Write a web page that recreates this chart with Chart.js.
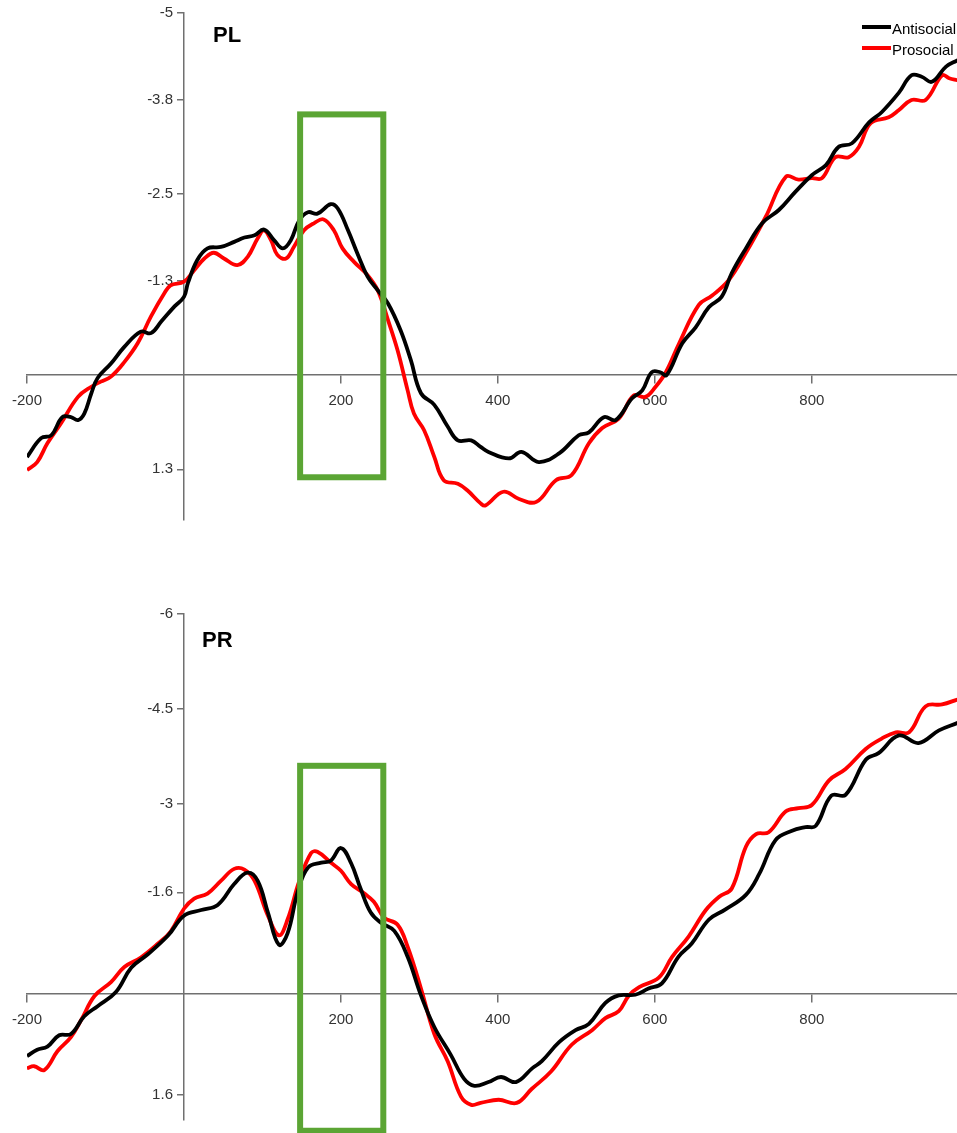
<!DOCTYPE html>
<html>
<head>
<meta charset="utf-8">
<script src="https://cdn.jsdelivr.net/npm/chart.js@4"></script>
<style>
	html, body { margin: 0; padding: 0; background: #fff; overflow: hidden; }
	body { width: 957px; height: 1133px; position: relative; }
	canvas { position: absolute; left: 0; }
	#pl { top: 0; }
	#pr { top: 560px; }
</style>
</head>
<body>
<canvas id="pl" width="957" height="560"></canvas>
<canvas id="pr" width="957" height="573"></canvas>
<script>
// ERP waveforms, time in ms, amplitude in microvolt (negative up)
const plAntiT = [-200,-182,-169,-155,-144,-135,-127,-118,-110,-93,-76,-55,-42,-29,-12,0,5,17,30,47,64,77,90,102,115,126,136,147,158,170,187,196,209,221,234,247,260,276,289,302,319,336,349,366,378,388,414,430,452,478,503,516,535,550,571,584,596,607,615,635,652,669,685,698,716,737,758,779,800,818,834,851,873,889,911,927,940,953,971,986];
const plAntiV = [1.13,0.87,0.83,0.58,0.58,0.62,0.53,0.25,0.04,-0.16,-0.39,-0.6,-0.58,-0.74,-0.95,-1.08,-1.27,-1.59,-1.75,-1.77,-1.84,-1.9,-1.93,-2.01,-1.86,-1.75,-1.86,-2.14,-2.25,-2.23,-2.36,-2.3,-2.0,-1.68,-1.36,-1.17,-0.99,-0.62,-0.21,0.25,0.41,0.71,0.9,0.9,0.99,1.06,1.15,1.06,1.2,1.08,0.83,0.79,0.58,0.62,0.32,0.21,-0.04,-0.04,0,-0.44,-0.66,-0.94,-1.08,-1.41,-1.75,-2.1,-2.28,-2.53,-2.76,-2.9,-3.15,-3.2,-3.49,-3.63,-3.9,-4.14,-4.12,-4.05,-4.26,-4.35];

const plProT = [-200,-187,-174,-157,-135,-118,-106,-93,-76,-59,-42,-25,-17,0,13,26,38,51,68,81,94,102,111,119,130,140,153,166,178,191,202,217,234,247,260,272,285,293,306,319,331,349,361,378,384,407,427,449,474,494,516,533,554,573,588,601,614,631,656,673,694,716,741,767,783,800,813,830,847,860,875,898,911,927,945,966,975,986];
const plProV = [1.31,1.2,0.94,0.67,0.3,0.16,0.09,0.02,-0.18,-0.44,-0.81,-1.13,-1.24,-1.29,-1.45,-1.61,-1.69,-1.61,-1.52,-1.63,-1.89,-2.0,-1.86,-1.66,-1.61,-1.77,-2.0,-2.1,-2.15,-2.0,-1.75,-1.56,-1.38,-1.17,-0.76,-0.35,0.21,0.53,0.76,1.13,1.45,1.5,1.59,1.77,1.8,1.61,1.71,1.75,1.45,1.38,0.94,0.73,0.6,0.28,0.3,0.16,-0.04,-0.44,-0.97,-1.1,-1.31,-1.69,-2.18,-2.74,-2.7,-2.72,-2.72,-3.01,-3.01,-3.15,-3.48,-3.56,-3.66,-3.8,-3.8,-4.14,-4.1,-4.07];

const prAntiT = [-200,-187,-174,-159,-144,-127,-110,-87,-67,-46,-20,0,22,43,64,81,94,107,121,132,145,158,175,187,200,213,225,238,251,268,285,302,319,340,357,370,388,404,423,444,456,478,499,516,537,554,575,592,609,630,647,669,690,716,733,754,774,792,805,825,843,869,885,911,936,962,986];
const prAntiV = [0.99,0.89,0.84,0.66,0.64,0.36,0.2,-0.02,-0.41,-0.62,-0.92,-1.23,-1.32,-1.4,-1.73,-1.91,-1.78,-1.28,-0.77,-0.95,-1.61,-1.99,-2.07,-2.1,-2.3,-2.06,-1.66,-1.28,-1.12,-0.99,-0.58,0.03,0.53,0.97,1.35,1.46,1.4,1.32,1.4,1.18,1.07,0.77,0.58,0.48,0.15,0.03,0.02,-0.08,-0.16,-0.58,-0.79,-1.17,-1.33,-1.56,-1.89,-2.43,-2.57,-2.63,-2.65,-3.13,-3.14,-3.7,-3.8,-4.08,-3.96,-4.16,-4.28];

const prProT = [-200,-191,-178,-161,-144,-131,-114,-93,-76,-55,-33,-17,0,13,30,47,64,77,90,107,121,132,147,162,170,187,200,213,230,242,255,272,285,302,319,336,353,366,378,401,424,443,468,494,520,537,554,567,580,605,622,643,665,682,698,716,729,745,767,783,800,822,843,869,889,907,924,945,966,986];
const prProV = [1.18,1.15,1.21,0.91,0.69,0.42,0.04,-0.18,-0.42,-0.57,-0.79,-0.98,-1.34,-1.5,-1.58,-1.78,-1.97,-1.96,-1.78,-1.23,-0.92,-1.17,-1.78,-2.22,-2.24,-2.07,-1.94,-1.73,-1.58,-1.45,-1.2,-1.09,-0.74,-0.08,0.64,1.07,1.63,1.76,1.73,1.68,1.73,1.51,1.23,0.81,0.58,0.39,0.28,0.03,-0.1,-0.25,-0.58,-0.9,-1.32,-1.53,-1.66,-2.32,-2.52,-2.55,-2.88,-2.93,-2.98,-3.37,-3.55,-3.87,-4.03,-4.13,-4.13,-4.54,-4.57,-4.65];

const seriesNames = ['Antisocial', 'Prosocial'];
const seriesColors = ['#000000', '#ff0000'];

const xTicks = [-200, 200, 400, 600, 800];
const plYTicks = [-5, -3.8, -2.5, -1.3, 1.3];
const prYTicks = [-6, -4.5, -3, -1.6, 1.6];

// highlighted window (ms) and its vertical extent per panel
const boxT = [148, 254];
const plBoxV = [-3.6, 1.41];
const prBoxV = [-3.6, 2.17];

const toPoints = function (ts, vs) {
	return ts.map((t, i) => ({ x: t, y: vs[i] }));
};

const overlay = {
	id: 'overlay',
	afterDraw(chart, args, opts) {
		const ctx = chart.ctx;
		const xs = chart.scales.x;
		const ys = chart.scales.y;
		ctx.save();
		// green box
		const x1 = xs.getPixelForValue(opts.boxT[0]);
		const x2 = xs.getPixelForValue(opts.boxT[1]);
		const y1 = ys.getPixelForValue(opts.boxV[0]);
		const y2 = ys.getPixelForValue(opts.boxV[1]);
		ctx.strokeStyle = '#5ba534';
		ctx.lineWidth = 6;
		ctx.strokeRect(x1, y1, x2 - x1, y2 - y1);
		// panel title
		ctx.fillStyle = '#000';
		ctx.font = 'bold 22px "Liberation Sans", Arial, sans-serif';
		ctx.textBaseline = 'alphabetic';
		ctx.textAlign = 'left';
		ctx.fillText(opts.title, opts.titleX, opts.titleY);
		// legend
		if (opts.legend) {
			ctx.font = '15px "Liberation Sans", Arial, sans-serif';
			ctx.textBaseline = 'middle';
			chart.data.datasets.forEach((ds, i) => {
				const ly = 27 + i * 21;
				ctx.strokeStyle = ds.borderColor;
				ctx.lineWidth = 4;
				ctx.beginPath();
				ctx.moveTo(862, ly);
				ctx.lineTo(891, ly);
				ctx.stroke();
				ctx.fillStyle = '#000';
				ctx.fillText(ds.label, 892, ly + 3);
			});
		}
		ctx.restore();
	},
};

const makeChart = function (id, anti, pro, yMin, yTicks, padTop, padBottom, ov) {
	const ctx = document.querySelector(id);
	const data = {
		datasets: [
			{ label: seriesNames[0], data: anti, borderColor: seriesColors[0], backgroundColor: seriesColors[0] },
			{ label: seriesNames[1], data: pro, borderColor: seriesColors[1], backgroundColor: seriesColors[1] },
		],
	};
	const font = { family: '"Liberation Sans", Arial, sans-serif', size: 15 };
	const axisGrey = '#707070';
	const setYTicks = (s) => { s.ticks = yTicks.map((v) => ({ value: v })); };
	const config = {
		type: 'line',
		data: data,
		options: {
			responsive: false,
			animation: false,
			events: [],
			layout: { padding: { left: 27, right: 0, top: padTop, bottom: padBottom } },
			elements: {
				line: { borderWidth: 3.8, tension: 0.4 },
				point: { radius: 0 },
			},
			scales: {
				x: {
					type: 'linear',
					min: -200,
					max: 985,
					position: { y: 0 },
					afterFit: (s) => { s.height = 0; },
					afterBuildTicks: (s) => { s.ticks = xTicks.map((v) => ({ value: v })); },
					grid: { drawOnChartArea: false, drawTicks: true, tickLength: 8, color: axisGrey, lineWidth: 1.5 },
					border: { color: axisGrey, width: 1.5 },
					ticks: { color: '#333', font: font, padding: 9, maxRotation: 0, autoSkip: false, callback: (v) => String(v) },
				},
				// axis line and tick marks at time 0
				y: {
					type: 'linear',
					min: yMin,
					max: 2,
					reverse: true,
					position: { x: 0 },
					afterFit: (s) => { s.width = 0; },
					afterBuildTicks: setYTicks,
					grid: { drawOnChartArea: false, drawTicks: true, tickLength: 6, color: axisGrey, lineWidth: 1.5 },
					border: { color: axisGrey, width: 1.5 },
					ticks: { display: false },
				},
				// same scale, only the labels, set a little left of the axis
				yLabels: {
					type: 'linear',
					axis: 'y',
					min: yMin,
					max: 2,
					reverse: true,
					position: { x: -14 },
					afterFit: (s) => { s.width = 0; },
					afterBuildTicks: setYTicks,
					grid: { display: false },
					border: { display: false },
					ticks: { color: '#333', font: font, autoSkip: false, callback: (v) => String(v) },
				},
			},
			plugins: {
				legend: { display: false },
				tooltip: { enabled: false },
				overlay: ov,
			},
		},
		plugins: [overlay],
	};
	return new Chart(ctx, config);
};

const init = function () {
	makeChart('#pl', toPoints(plAntiT, plAntiV), toPoints(plProT, plProV), -5, plYTicks, 13, 40,
		{ title: 'PL', titleX: 213, titleY: 42, boxT: boxT, boxV: plBoxV, legend: true });
	makeChart('#pr', toPoints(prAntiT, prAntiV), toPoints(prProT, prProV), -6, prYTicks, 54, 13,
		{ title: 'PR', titleX: 202, titleY: 87, boxT: boxT, boxV: prBoxV, legend: false });
};
document.addEventListener('DOMContentLoaded', init);
</script>
</body>
</html>
